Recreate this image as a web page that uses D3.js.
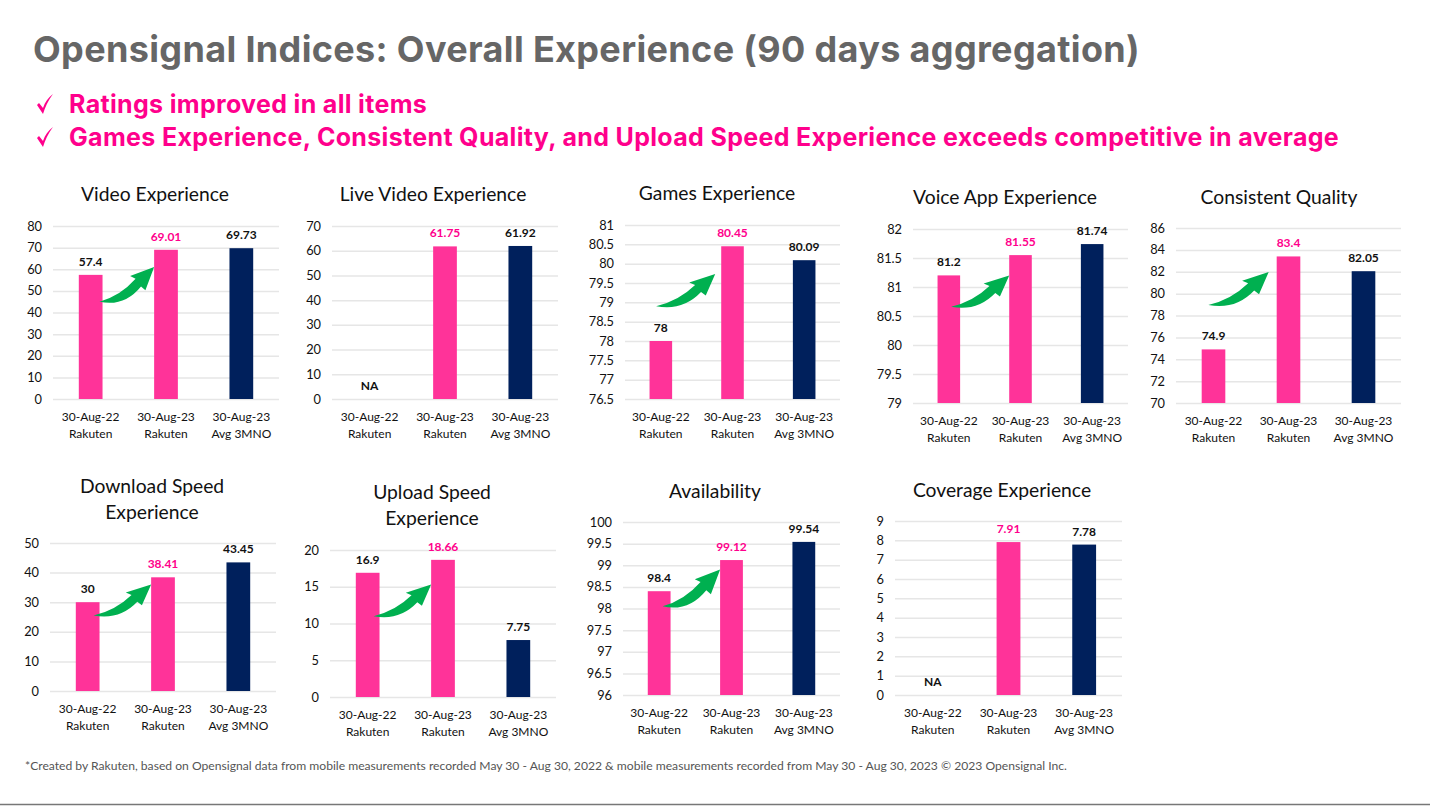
<!DOCTYPE html>
<html>
<head>
<meta charset="utf-8">
<script src="https://cdn.jsdelivr.net/npm/d3@7"></script>
<style>
  html, body { margin: 0; padding: 0; background: #fff; }
  svg { display: block; }
  .head { font-family: Inter, "Open Sans", sans-serif; font-weight: 700; }
  .small { font-family: Lato, "Open Sans", sans-serif; }
</style>
</head>
<body>
<svg id="chart" width="1430" height="809"></svg>
<script>
// slide text
const pageTitle = "Opensignal Indices: Overall Experience (90 days aggregation)";
const bullets = [
  "Ratings improved in all items",
  "Games Experience, Consistent Quality, and Upload Speed Experience exceeds competitive in average"
];
const footnote = "*Created by Rakuten, based on Opensignal data from mobile measurements recorded May 30 - Aug 30, 2022 & mobile measurements recorded from May 30 - Aug 30, 2023 © 2023 Opensignal Inc.";

// shared categories
const catDates = ["30-Aug-22", "30-Aug-23", "30-Aug-23"];
const catNames = ["Rakuten", "Rakuten", "Avg 3MNO"];

// values per chart, null = NA
const videoVals = [57.4, 69.01, 69.73];
const liveVals = [null, 61.75, 61.92];
const gamesVals = [78, 80.45, 80.09];
const voiceVals = [81.2, 81.55, 81.74];
const consistentVals = [74.9, 83.4, 82.05];
const downloadVals = [30, 38.41, 43.45];
const uploadVals = [16.9, 18.66, 7.75];
const availVals = [98.4, 99.12, 99.54];
const coverageVals = [null, 7.91, 7.78];

// tick labels per chart
const videoTicks = [0, 10, 20, 30, 40, 50, 60, 70, 80];
const liveTicks = [0, 10, 20, 30, 40, 50, 60, 70];
const gamesTicks = [76.5, 77, 77.5, 78, 78.5, 79, 79.5, 80, 80.5, 81];
const voiceTicks = [79, 79.5, 80, 80.5, 81, 81.5, 82];
const consistentTicks = [70, 72, 74, 76, 78, 80, 82, 84, 86];
const downloadTicks = [0, 10, 20, 30, 40, 50];
const uploadTicks = [0, 5, 10, 15, 20];
const availTicks = [96, 96.5, 97, 97.5, 98, 98.5, 99, 99.5, 100];
const coverageTicks = [0, 1, 2, 3, 4, 5, 6, 7, 8, 9];

const PINK = "#ff3399", NAVY = "#00205c", HOT = "#ff008c", GREEN = "#00b050";

// box = plot area on the slide, arrow = [start, tip] in axis values, arrowIn/arrowOut nudge its ends
const panels = [
  { title: ["Video Experience"], titleX: 155, titleY: 201, vals: videoVals, ticks: videoTicks, box: [53, 279, 226, 399], arrow: [45, 61], arrowIn: 3, arrowOut: 0 },
  { title: ["Live Video Experience"], titleX: 433, titleY: 201, vals: liveVals, ticks: liveTicks, box: [332, 558, 226, 399] },
  { title: ["Games Experience"], titleX: 717, titleY: 200, vals: gamesVals, ticks: gamesTicks, box: [625, 840, 225, 399], arrow: [78.9, 79.73], arrowIn: 16, arrowOut: 6 },
  { title: ["Voice App Experience"], titleX: 1005, titleY: 204, vals: voiceVals, ticks: voiceTicks, box: [913, 1128, 229, 403], arrow: [80.66, 81.2], arrowIn: 9, arrowOut: 0 },
  { title: ["Consistent Quality"], titleX: 1279, titleY: 204, vals: consistentVals, ticks: consistentTicks, box: [1176, 1401, 228, 403], arrow: [78.96, 81.97], arrowIn: 17, arrowOut: 8 },
  { title: ["Download Speed", "Experience"], titleX: 152, titleY: 493, vals: downloadVals, ticks: downloadTicks, box: [50, 276, 543, 691], arrow: [25.5, 36], arrowIn: 6, arrowOut: 0 },
  { title: ["Upload Speed", "Experience"], titleX: 432, titleY: 499, vals: uploadVals, ticks: uploadTicks, box: [330, 556, 550, 697], arrow: [11, 15.3], arrowIn: 6, arrowOut: 0 },
  { title: ["Availability"], titleX: 715, titleY: 498, vals: availVals, ticks: availTicks, box: [623, 840, 522, 695], arrow: [98.05, 98.9], arrowIn: 8, arrowOut: 0 },
  { title: ["Coverage Experience"], titleX: 1002, titleY: 497, vals: coverageVals, ticks: coverageTicks, box: [895, 1122, 521, 695] }
];

const svg = d3.select("#chart");

svg.append("text").attr("class", "head")
  .attr("x", 33).attr("y", 62)
  .attr("font-size", 36).attr("letter-spacing", 0.35).attr("fill", "#666")
  .text(pageTitle);

bullets.forEach(function (b, i) {
  const y = 113 + i * 33;
  svg.append("path")
    .attr("d", `M37,${y - 8} L39,${y - 10} L43,${y - 5} C45,${y - 11} 48,${y - 15} 53,${y - 19} C48,${y - 12} 45,${y - 6} 43,${y + 1} Z`)
    .attr("fill", HOT);
  svg.append("text").attr("class", "head")
    .attr("x", 69).attr("y", y)
    .attr("font-size", 25).attr("letter-spacing", 0.33).attr("fill", HOT)
    .text(b);
});

svg.append("text").attr("class", "small")
  .attr("x", 25).attr("y", 770)
  .attr("font-size", 12.13).attr("fill", "#555")
  .text(footnote);

svg.append("line")
  .attr("x1", 0).attr("x2", 1430).attr("y1", 804.5).attr("y2", 804.5)
  .attr("stroke", "#777").attr("stroke-width", 1.5);

function drawPanel(p) {
  const [x0, x1, yTop, yBot] = p.box;
  const g = svg.append("g").attr("class", "small");

  const x = d3.scaleBand().domain(d3.range(3)).range([x0, x1]);
  const y = d3.scaleLinear().domain(d3.extent(p.ticks)).range([yBot, yTop]);
  const barW = x.bandwidth() * 0.315;
  const barX = i => x(i) + (x.bandwidth() - barW) / 2;
  const mid = i => x(i) + x.bandwidth() / 2;

  g.selectAll("text.title").data(p.title).join("text")
    .attr("class", "title")
    .attr("x", p.titleX).attr("y", (d, i) => p.titleY + i * 26)
    .attr("text-anchor", "middle")
    .attr("font-size", 19.3).attr("fill", "#111")
    .text(d => d);

  // y axis, the gridlines are its ticks
  const axis = d3.axisLeft(y).tickValues(p.ticks)
    .tickSize(-(x1 - x0)).tickPadding(11).tickFormat(d => d);
  const ag = g.append("g").attr("transform", `translate(${x0},0)`).call(axis);
  ag.select(".domain").remove();
  ag.selectAll("line").attr("stroke", "#e6e6e6").attr("stroke-width", 1.5);
  ag.selectAll("text").attr("font-size", 12.8).attr("fill", "#111")
    .attr("font-family", "Lato, sans-serif");

  g.selectAll("rect").data(p.vals).join("rect")
    .attr("x", (d, i) => barX(i))
    .attr("width", barW)
    .attr("y", d => d === null ? yBot : y(d))
    .attr("height", d => d === null ? 0 : yBot - y(d))
    .attr("fill", (d, i) => i === 2 ? NAVY : PINK);

  g.selectAll("text.val").data(p.vals).join("text")
    .attr("class", "val")
    .attr("x", (d, i) => mid(i))
    .attr("y", d => d === null ? yBot - 9 : y(d) - 9)
    .attr("text-anchor", "middle")
    .attr("font-size", 12).attr("font-weight", 700)
    .attr("fill", (d, i) => i === 1 ? HOT : "#111")
    .text(d => d === null ? "NA" : d);

  catDates.forEach(function (c, i) {
    g.append("text").attr("x", mid(i)).attr("y", yBot + 22)
      .attr("text-anchor", "middle").attr("font-size", 12).attr("fill", "#111").text(c);
    g.append("text").attr("x", mid(i)).attr("y", yBot + 38.5)
      .attr("text-anchor", "middle").attr("font-size", 12).attr("fill", "#111").text(catNames[i]);
  });

  if (p.arrow) {
    // curved arrow from first bar to second, drawn in a unit box then scaled
    const ax0 = barX(0) + barW - p.arrowIn;
    const ax1 = barX(1) - p.arrowOut;
    const ay0 = y(p.arrow[0]);
    const ay1 = y(p.arrow[1]);
    const u = d3.scaleLinear().domain([0, 1]).range([ax0, ax1]);
    const v = d3.scaleLinear().domain([0, 1]).range([ay0, ay1]);
    const pt = (a, b) => `${u(a)},${v(b)}`;
    g.append("path")
      .attr("d", `M${pt(0, 0)} Q${pt(0.38, 0.16)} ${pt(0.66, 0.66)} L${pt(0.56, 0.74)} L${pt(1, 1)} L${pt(0.84, 0.33)} L${pt(0.76, 0.44)} Q${pt(0.45, -0.16)} ${pt(0, 0)} Z`)
      .attr("fill", GREEN);
  }
}

panels.forEach(drawPanel);
</script>
</body>
</html>
